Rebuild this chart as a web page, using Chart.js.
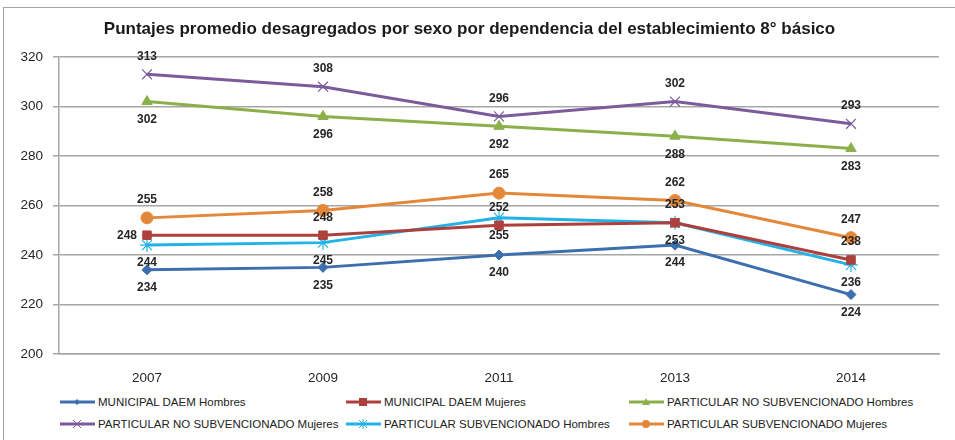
<!DOCTYPE html>
<html>
<head>
<meta charset="utf-8">
<script src="https://cdn.jsdelivr.net/npm/chart.js@4"></script>
<style>
  html,body{margin:0;padding:0;background:#fff;}
  body{width:955px;height:440px;overflow:hidden;position:relative;font-family:"Liberation Sans",Arial,sans-serif;}
  .frame{position:absolute;left:3px;top:7px;width:980px;height:460px;border:1.5px solid #a6a6a6;box-sizing:border-box;}
  .wrap{position:absolute;left:0;top:0;width:955px;height:390px;}
  .legend{position:absolute;left:0;top:392px;width:955px;height:45px;font-size:11.5px;color:#222;}
  .li{position:absolute;display:flex;align-items:center;white-space:nowrap;}
  .li svg{margin-right:3px;}
</style>
</head>
<body>
<div class="frame"></div>
<div class="wrap"><canvas id="c" width="955" height="390"></canvas></div>
<div class="legend" id="legend"></div>
<script>
// chart data
const years = ["2007", "2009", "2011", "2013", "2014"];
const seriesNames = [
  "MUNICIPAL DAEM Hombres",
  "MUNICIPAL DAEM Mujeres",
  "PARTICULAR NO SUBVENCIONADO Hombres",
  "PARTICULAR NO SUBVENCIONADO Mujeres",
  "PARTICULAR SUBVENCIONADO Hombres",
  "PARTICULAR SUBVENCIONADO Mujeres"
];
const municipalHombres = [234, 235, 240, 244, 224];
const municipalMujeres = [248, 248, 252, 253, 238];
const noSubvHombres = [302, 296, 292, 288, 283];
const noSubvMujeres = [313, 308, 296, 302, 293];
const subvHombres = [244, 245, 255, 253, 236];
const subvMujeres = [255, 258, 265, 262, 247];
const yTicks = [200, 220, 240, 260, 280, 300, 320];

// look of each series
const colors = ["#3d6eae", "#ad403d", "#8bb04a", "#7b5b9c", "#22b3e6", "#e3883a"];
const markers = ["rectRot", "rect", "triangle", "crossRot", "star", "circle"];
const markerSize = [5, 6, 6, 7, 7, 6];
// where each value label goes: a = above, b = below, l = left
const labelSide = [
  ["b","b","b","b","b"],
  ["l","a","a","a","a"],
  ["b","b","b","b","b"],
  ["a","a","a","a","a"],
  ["b","b","b","b","b"],
  ["a","a","a","a","a"]
];

const values = [municipalHombres, municipalMujeres, noSubvHombres, noSubvMujeres, subvHombres, subvMujeres];

const datasets = values.map((v, i) => ({
  label: seriesNames[i],
  data: v,
  borderColor: colors[i],
  backgroundColor: colors[i],
  borderWidth: 3,
  pointStyle: markers[i],
  pointRadius: markerSize[i],
  pointBorderWidth: (markers[i] === "crossRot" || markers[i] === "star") ? 1.2 : 1,
  pointBorderColor: colors[i],
  pointBackgroundColor: colors[i],
  tension: 0
}));

// value labels next to each point
const valueLabels = {
  id: "valueLabels",
  afterDatasetsDraw(chart){
    const ctx = chart.ctx;
    ctx.save();
    ctx.font = "bold 12px 'Liberation Sans', Arial, sans-serif";
    ctx.fillStyle = "#262626";
    ctx.textBaseline = "middle";
    chart.data.datasets.forEach((ds, i) => {
      const meta = chart.getDatasetMeta(i);
      meta.data.forEach((pt, j) => {
        const side = labelSide[i][j];
        let x = pt.x, y = pt.y;
        ctx.textAlign = "center";
        if (side === "a") y -= 18;
        else if (side === "b") y += 18;
        else { x -= 10; ctx.textAlign = "right"; }
        ctx.fillText(String(ds.data[j]), x, y);
      });
    });
    ctx.restore();
  }
};

new Chart(document.getElementById("c"), {
  type: "line",
  data: { labels: years, datasets },
  options: {
    responsive: false,
    animation: false,
    layout: { padding: { top: 8, right: 16, left: 0, bottom: 0 } },
    plugins: {
      legend: { display: false },
      tooltip: { enabled: false },
      title: {
        display: true,
        text: "Puntajes promedio desagregados por sexo por dependencia del establecimiento 8° básico",
        color: "#1a1a1a",
        font: { family: "'Liberation Sans', Arial, sans-serif", size: 17, weight: "bold", lineHeight: 1.2 },
        padding: { top: 11, bottom: 17.6 }
      }
    },
    scales: {
      x: {
        offset: true,
        grid: { display: false },
        border: { display: true, color: "#a6a6a6", width: 1.5 },
        ticks: { color: "#262626", padding: 8, font: { family: "'Liberation Sans', Arial, sans-serif", size: 13.5 } },
        afterFit(s){ s.height = 36; }
      },
      y: {
        min: 200, max: 320,
        afterBuildTicks(s){ s.ticks = yTicks.map(v => ({ value: v })); },
        grid: { color: "#a6a6a6", lineWidth: 1.5, tickLength: 6, drawTicks: true },
        border: { display: true, color: "#a6a6a6", width: 1.5 },
        ticks: { color: "#262626", padding: 10, font: { family: "'Liberation Sans', Arial, sans-serif", size: 13.5 } },
        afterFit(s){ s.width = 59; }
      }
    }
  },
  plugins: [valueLabels]
});

// legend in three columns, two rows, like the original
function markerSvg(i){
  const c = colors[i];
  let m = "";
  if (markers[i] === "rectRot") m = `<polygon points="17,2 20,5 17,8 14,5" fill="${c}"/>`;
  else if (markers[i] === "rect") m = `<rect x="13" y="1" width="8" height="8" fill="${c}"/>`;
  else if (markers[i] === "triangle") m = `<polygon points="17,1 21,8 13,8" fill="${c}"/>`;
  else if (markers[i] === "crossRot") m = `<path d="M13 1L21 9M21 1L13 9" stroke="${c}" stroke-width="1"/>`;
  else if (markers[i] === "star") m = `<path d="M13 1L21 9M21 1L13 9M17 0L17 10" stroke="${c}" stroke-width="1"/>`;
  else m = `<circle cx="17" cy="5" r="4" fill="${c}"/>`;
  return `<svg width="35" height="10"><line x1="0" y1="5" x2="35" y2="5" stroke="${c}" stroke-width="3"/>${m}</svg>`;
}
const legendCols = [60, 346, 629];
const legendRows = [4, 26];
const leg = document.getElementById("legend");
seriesNames.forEach((name, i) => {
  const d = document.createElement("div");
  d.className = "li";
  d.style.left = legendCols[i % 3] + "px";
  d.style.top = legendRows[Math.floor(i / 3)] + "px";
  d.innerHTML = markerSvg(i) + `<span>${name}</span>`;
  leg.appendChild(d);
});
</script>
</body>
</html>
